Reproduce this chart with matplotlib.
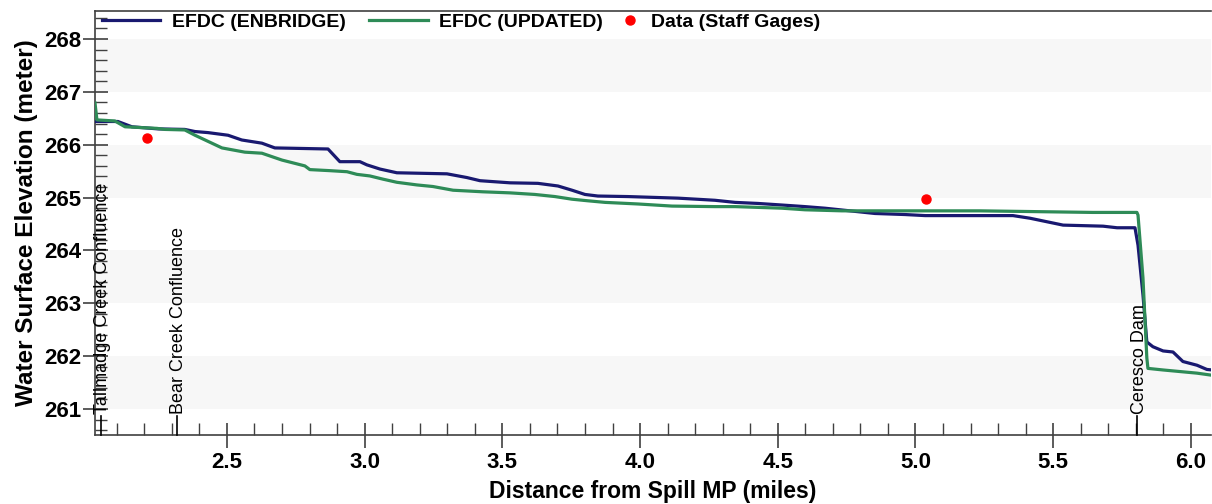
"""
Water surface elevation profile along the river reach:
EFDC model runs (Enbridge vs updated) against staff gage data.
Output: out.png
"""

import matplotlib.pyplot as plt
from matplotlib.ticker import MultipleLocator, FormatStrFormatter
import matplotlib.transforms as mtransforms

# ---- data (miles, metres) ----
enb_x = [2.021, 2.104, 2.155, 2.250, 2.347, 2.384, 2.431, 2.504, 2.554, 2.627, 2.674,
         2.867, 2.910, 2.983, 3.008, 3.056, 3.117, 3.299, 3.371, 3.419, 3.528,
         3.629, 3.702, 3.753, 3.800, 3.847, 3.956, 4.138, 4.272, 4.345, 4.428,
         4.515, 4.599, 4.671, 4.853, 4.962, 5.035, 5.354, 5.416, 5.536, 5.681,
         5.732, 5.797, 5.808, 5.826, 5.840, 5.862, 5.899, 5.935, 5.971, 6.022,
         6.058, 6.077]
enb_y = [266.44, 266.44, 266.34, 266.30, 266.29, 266.25, 266.23, 266.18, 266.09, 266.03, 265.94,
         265.92, 265.68, 265.68, 265.62, 265.54, 265.47, 265.45, 265.38, 265.32, 265.28,
         265.27, 265.22, 265.14, 265.06, 265.03, 265.02, 264.99, 264.95, 264.91, 264.89,
         264.86, 264.83, 264.80, 264.70, 264.68, 264.66, 264.66, 264.61, 264.48, 264.46,
         264.43, 264.43, 264.10, 263.16, 262.27, 262.18, 262.10, 262.08, 261.90, 261.83,
         261.75, 261.74]

upd_x = [2.021, 2.028, 2.093, 2.130, 2.246, 2.275, 2.347, 2.384, 2.482, 2.565,
         2.627, 2.700, 2.783, 2.801, 2.874, 2.936, 2.972, 3.019, 3.066, 3.117,
         3.190, 3.248, 3.321, 3.430, 3.528, 3.618, 3.691, 3.753, 3.811, 3.873,
         3.992, 4.116, 4.272, 4.345, 4.515, 4.599, 4.733, 5.234, 5.644, 5.804,
         5.808, 5.826, 5.840, 5.844, 5.899, 6.022, 6.077]
upd_y = [266.79, 266.47, 266.45, 266.34, 266.31, 266.29, 266.28, 266.18, 265.94, 265.86,
         265.84, 265.71, 265.60, 265.53, 265.51, 265.49, 265.44, 265.41, 265.35, 265.29,
         265.24, 265.21, 265.14, 265.11, 265.09, 265.06, 265.02, 264.97, 264.94, 264.91,
         264.88, 264.84, 264.83, 264.83, 264.80, 264.77, 264.75, 264.75, 264.72, 264.72,
         264.67, 263.48, 261.97, 261.77, 261.74, 261.68, 261.64]

gage_x = [2.21, 5.04]
gage_y = [266.13, 264.97]

landmark_names = ["Tallmadge Creek Confluence", "Bear Creek Confluence", "Ceresco Dam"]
landmark_x = [2.042, 2.317, 5.805]

XLIM = (2.021, 6.073)
YLIM = (260.51, 268.53)

BLUE  = "#191970"
GREEN = "#2e8b57"
AXCOL = "#404040"

plt.rcParams.update({
    "font.family": ["Liberation Sans", "DejaVu Sans"],
    "font.weight": "bold",
})

W, H = 1212, 504
fig = plt.figure(figsize=(W / 100, H / 100), dpi=100)
ax = fig.add_axes([95 / W, (H - 435) / H, (1211 - 95) / W, 424 / H])

# alternating light bands between whole metres
for lo in range(261, 268, 2):
    ax.axhspan(lo, lo + 1, color="#f7f7f7", lw=0, zorder=0)

ax.plot(enb_x, enb_y, color=BLUE, lw=2.3, label="EFDC (ENBRIDGE)", zorder=3)
ax.plot(upd_x, upd_y, color=GREEN, lw=2.3, label="EFDC (UPDATED)", zorder=4)
ax.plot(gage_x, gage_y, ls="none", marker="o", ms=6.5, color="red",
        mec="red", label="Data (Staff Gages)", zorder=5)

# landmark markers along the bottom axis
trans = mtransforms.blended_transform_factory(ax.transData, ax.transAxes)
for name, xv in zip(landmark_names, landmark_x):
    ax.plot([xv, xv], [0, 0.045], color="black", lw=1.2, transform=trans,
            clip_on=False, zorder=6)
    ax.text(xv + 0.008, 0.050, name, rotation=90, ha="center", va="bottom",
            fontsize=13, fontweight="normal", transform=trans, zorder=6)

ax.set_xlim(*XLIM)
ax.set_ylim(*YLIM)
ax.xaxis.set_major_locator(MultipleLocator(0.5))
ax.xaxis.set_minor_locator(MultipleLocator(0.1))
ax.yaxis.set_major_locator(MultipleLocator(1))
ax.yaxis.set_minor_locator(MultipleLocator(0.2))
ax.xaxis.set_major_formatter(FormatStrFormatter("%.1f"))
ax.yaxis.set_major_formatter(FormatStrFormatter("%d"))

ax.tick_params(which="major", direction="inout", length=18, width=1.2,
               color=AXCOL, labelsize=16)
ax.tick_params(axis="x", which="major", pad=3.5)
ax.tick_params(axis="y", which="major", pad=1)
ax.tick_params(which="minor", direction="in", length=8.5, width=1.0, color=AXCOL)
for lab in ax.get_xticklabels() + ax.get_yticklabels():
    lab.set_fontweight("bold")

ax.spines["right"].set_visible(False)
for side in ("left", "bottom", "top"):
    ax.spines[side].set_color(AXCOL)
    ax.spines[side].set_linewidth(1.2)

ax.set_xlabel("Distance from Spill MP (miles)", fontsize=16.5, fontweight="bold",
              labelpad=5)
ax.set_ylabel("Water Surface Elevation (meter)", fontsize=17.5, fontweight="bold",
              labelpad=4)

# legend: the two model lines, then the gage dot with a short handle
lines, labels = ax.get_legend_handles_labels()
leg_kw = dict(loc="center left", bbox_transform=fig.transFigure, frameon=False,
              handletextpad=0.6, columnspacing=1.2,
              borderpad=0, borderaxespad=0, prop={"weight": "bold", "size": 14})
leg1 = ax.legend(lines[:2], labels[:2], ncol=2, handlelength=3.0,
                 bbox_to_anchor=(102 / W, 1 - 22 / H), **leg_kw)
ax.add_artist(leg1)
ax.legend(lines[2:], labels[2:], ncol=1, handlelength=1.0, numpoints=1,
          bbox_to_anchor=(620 / W, 1 - 22 / H), **leg_kw)

fig.savefig("out.png", dpi=100)
